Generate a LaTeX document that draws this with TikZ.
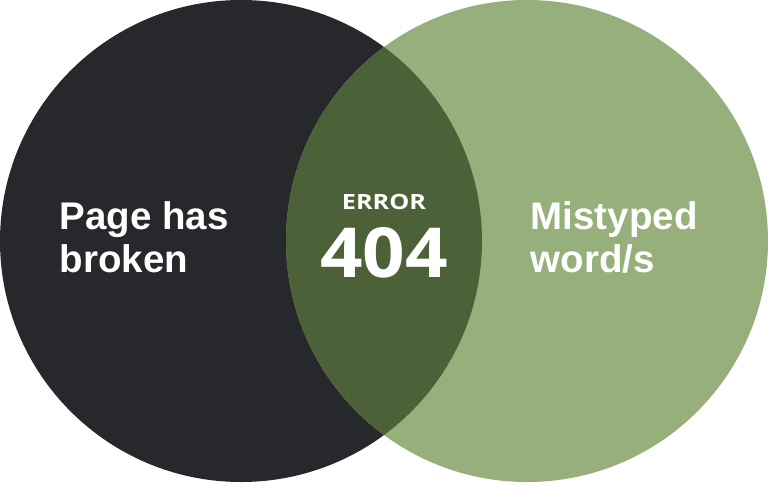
\documentclass[tikz,border=0pt]{standalone}
\usepackage{fontspec}
\setmainfont{Liberation Sans}
\newfontfamily\errorfont[FakeStretch=1.2]{Open Sans}
\newfontfamily\codefont[FakeStretch=1.08]{Open Sans}
\usepackage{xcolor}
\usetikzlibrary{positioning}

\definecolor{brokenfill}{HTML}{27282C}
\definecolor{typofill}{HTML}{96AF7B}
\definecolor{overlapfill}{HTML}{4D6138}

\begin{document}
\begin{tikzpicture}[x=1pt, y=-1pt,
	setlabel/.style={anchor=base west, inner sep=0pt, text=white, font=\fontsize{38.5}{43}\selectfont\bfseries},
	errlabel/.style={anchor=base, inner sep=0pt, text=white}]
	\useasboundingbox (0,0) rectangle (768,482);
	% the two sets
	\fill[brokenfill] (241,241) circle (241pt);
	\fill[typofill] (527,241) circle (241pt);
	\begin{scope}
		\clip (241,241) circle (241pt);
		\fill[overlapfill] (527,241) circle (241pt);
	\end{scope}
	% labels
	\node[setlabel] (page) at (59.5,229) {Page has};
	\node[setlabel] (broken) at (59.5,272) {broken};
	\node[setlabel] (mistyped) at (530.5,229) {Mistyped};
	\node[setlabel] (words) at (530.5,272) {word/s};
	\node[errlabel, font=\errorfont\fontsize{21}{24}\selectfont\bfseries] (error) at (384,209.5) {ERROR};
	\node[errlabel, font=\codefont\fontsize{69}{72}\selectfont\bfseries] (code) at (384,277) {404};
\end{tikzpicture}
\end{document}
